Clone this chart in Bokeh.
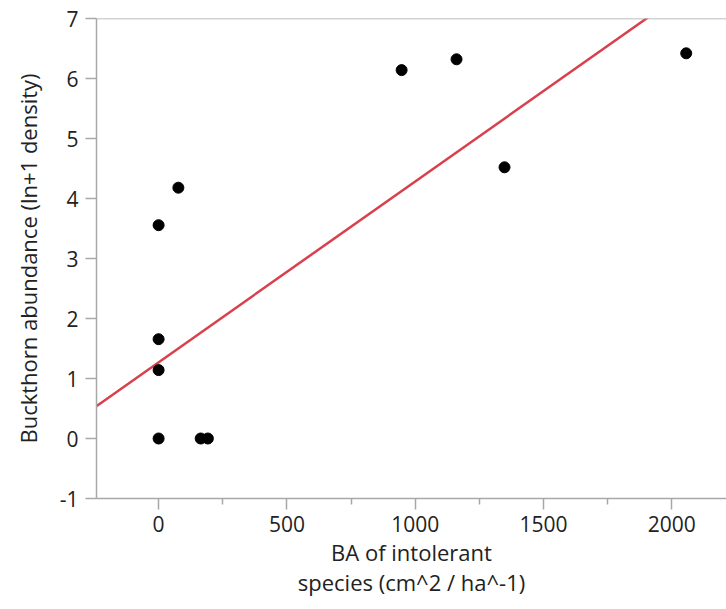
from bokeh.plotting import figure
from bokeh.models import Range1d, Span, FixedTicker
from bokeh.embed import file_html
from bokeh.resources import INLINE

# Data
ba_intolerant = [0, 0, 0, 0, 77, 164, 192, 947, 1161, 1348, 2056]
buckthorn = [0.0, 1.14, 1.655, 3.555, 4.18, 0.0, 0.0, 6.14, 6.32, 4.52, 6.42]

# Fitted line coefficients
fit_intercept = 1.27
fit_slope = 0.003014
fit_x = [-300, 2300]
fit_y = [fit_intercept + fit_slope * x for x in fit_x]

x_ticks = [0, 500, 1000, 1500, 2000]
x_minor = [-250, 250, 750, 1250, 1750, 2250]
y_ticks = [-1, 0, 1, 2, 3, 4, 5, 6, 7]

FONT = "Open Sans"
GRAY = "#a8a8a8"
TEXT = "#222222"

p = figure(width=726, height=609, output_backend="svg", toolbar_location=None,
           x_range=Range1d(-242, 2213), y_range=Range1d(-1, 7),
           min_border_left=96, min_border_right=0, min_border_top=18,
           min_border_bottom=111)

p.outline_line_color = None
p.grid.grid_line_color = None
p.background_fill_color = "white"
p.border_fill_color = "white"

p.xaxis.ticker = FixedTicker(ticks=x_ticks, minor_ticks=x_minor)
p.yaxis.ticker = FixedTicker(ticks=y_ticks)
p.yaxis.major_label_overrides = {-1: "-1"}

for ax in (p.xaxis, p.yaxis):
    ax.axis_line_color = GRAY
    ax.axis_line_width = 1.5
    ax.major_tick_line_color = GRAY
    ax.major_tick_line_width = 1.5
    ax.minor_tick_line_color = GRAY
    ax.minor_tick_line_width = 1.5
    ax.major_tick_in = 0
    ax.major_tick_out = 11
    ax.minor_tick_in = 0
    ax.minor_tick_out = 6
    ax.major_label_text_font = FONT
    ax.major_label_text_font_size = "21px"
    ax.major_label_text_color = TEXT
    ax.axis_label_text_font = FONT
    ax.axis_label_text_font_size = "22px"
    ax.axis_label_text_font_style = "normal"
    ax.axis_label_text_color = TEXT
    ax.axis_label_text_line_height = 1.0

p.yaxis.minor_tick_line_color = None
p.xaxis.major_label_standoff = 6
p.yaxis.major_label_standoff = 7
p.xaxis.axis_label = "BA of intolerant\nspecies (cm^2 / ha^-1)"
p.yaxis.axis_label = "Buckthorn abundance (ln+1 density)"
p.xaxis.axis_label_standoff = 2
p.yaxis.axis_label_standoff = 14

top_line = Span(location=7, dimension="width", line_color=GRAY, line_width=1.5)
p.add_layout(top_line)

p.line(fit_x, fit_y, line_color="#d8404e", line_width=2.5)
p.scatter(ba_intolerant, buckthorn, size=11, fill_color="black", line_color="black")

open("out.html", "w").write(file_html(p, INLINE))
